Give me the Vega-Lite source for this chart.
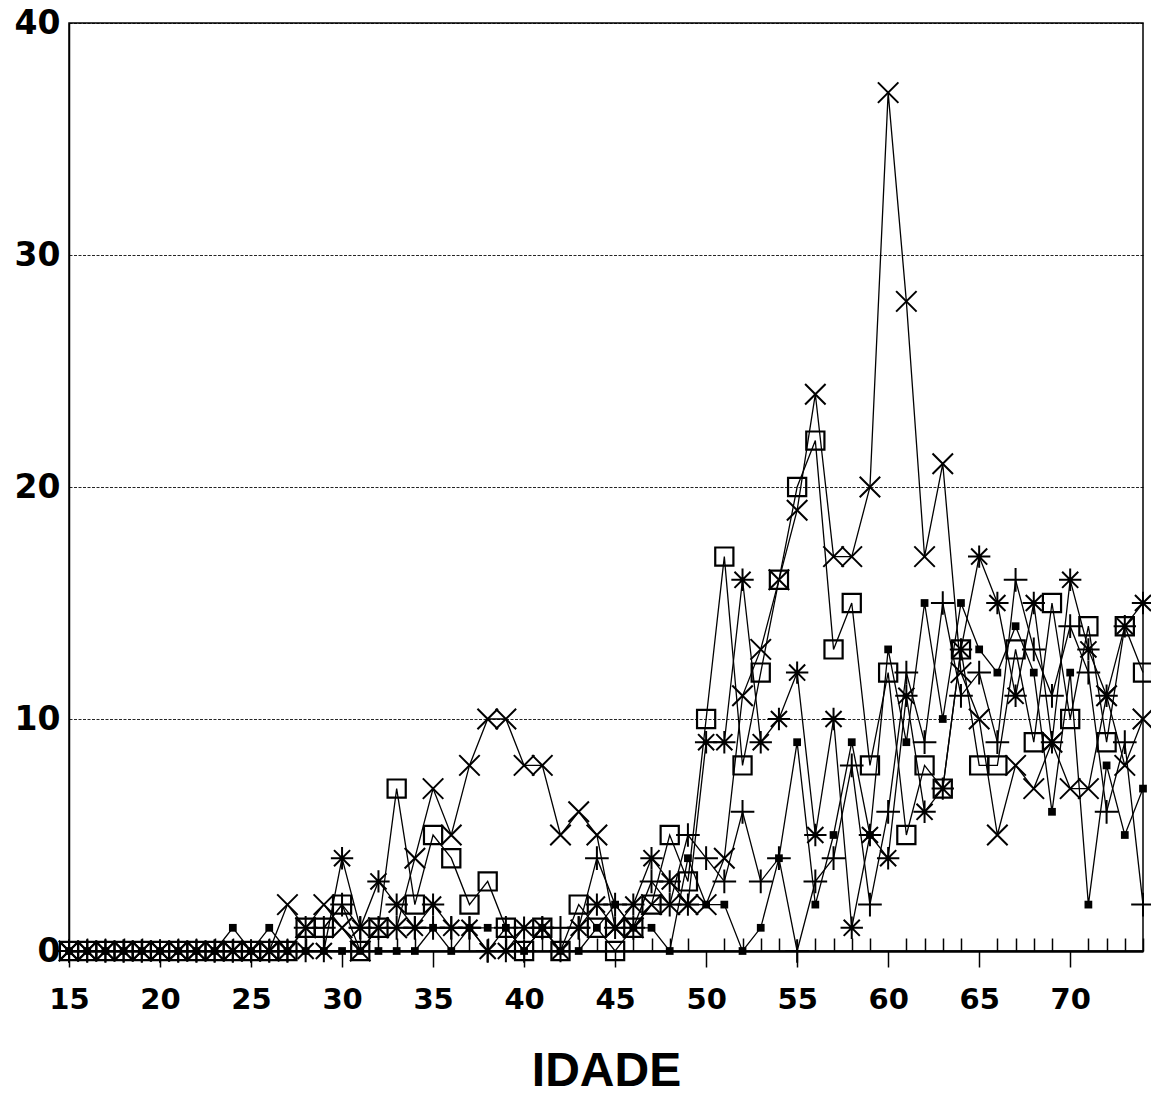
{
  "$schema": "https://vega.github.io/schema/vega-lite/v6.json",
  "width": 1074,
  "height": 928,
  "autosize": {"type": "none"},
  "padding": {"left": 69, "top": 23, "right": 8, "bottom": 152},
  "background": "white",
  "config": {
    "view": {"stroke": "black", "strokeWidth": 1.5},
    "axis": {"domainColor": "black", "tickColor": "black", "labelColor": "black", "titleColor": "black"}
  },
  "data": {
    "values": [
      {"age":15,"s":"X","v":0},{"age":16,"s":"X","v":0},{"age":17,"s":"X","v":0},{"age":18,"s":"X","v":0},{"age":19,"s":"X","v":0},{"age":20,"s":"X","v":0},{"age":21,"s":"X","v":0},{"age":22,"s":"X","v":0},{"age":23,"s":"X","v":0},{"age":24,"s":"X","v":0},{"age":25,"s":"X","v":0},{"age":26,"s":"X","v":0},{"age":27,"s":"X","v":2},{"age":28,"s":"X","v":1},{"age":29,"s":"X","v":2},{"age":30,"s":"X","v":1},{"age":31,"s":"X","v":0},{"age":32,"s":"X","v":1},{"age":33,"s":"X","v":1},{"age":34,"s":"X","v":4},{"age":35,"s":"X","v":7},{"age":36,"s":"X","v":5},{"age":37,"s":"X","v":8},{"age":38,"s":"X","v":10},{"age":39,"s":"X","v":10},{"age":40,"s":"X","v":8},{"age":41,"s":"X","v":8},{"age":42,"s":"X","v":5},{"age":43,"s":"X","v":6},{"age":44,"s":"X","v":5},{"age":45,"s":"X","v":1},{"age":46,"s":"X","v":1},{"age":47,"s":"X","v":2},{"age":48,"s":"X","v":2},{"age":49,"s":"X","v":2},{"age":50,"s":"X","v":2},{"age":51,"s":"X","v":4},{"age":52,"s":"X","v":11},{"age":53,"s":"X","v":13},{"age":54,"s":"X","v":16},{"age":55,"s":"X","v":19},{"age":56,"s":"X","v":24},{"age":57,"s":"X","v":17},{"age":58,"s":"X","v":17},{"age":59,"s":"X","v":20},{"age":60,"s":"X","v":37},{"age":61,"s":"X","v":28},{"age":62,"s":"X","v":17},{"age":63,"s":"X","v":21},{"age":64,"s":"X","v":12},{"age":65,"s":"X","v":10},{"age":66,"s":"X","v":5},{"age":67,"s":"X","v":8},{"age":68,"s":"X","v":7},{"age":69,"s":"X","v":9},{"age":70,"s":"X","v":7},{"age":71,"s":"X","v":7},{"age":72,"s":"X","v":11},{"age":73,"s":"X","v":8},{"age":74,"s":"X","v":10},

      {"age":15,"s":"SQ","v":0},{"age":16,"s":"SQ","v":0},{"age":17,"s":"SQ","v":0},{"age":18,"s":"SQ","v":0},{"age":19,"s":"SQ","v":0},{"age":20,"s":"SQ","v":0},{"age":21,"s":"SQ","v":0},{"age":22,"s":"SQ","v":0},{"age":23,"s":"SQ","v":0},{"age":24,"s":"SQ","v":0},{"age":25,"s":"SQ","v":0},{"age":26,"s":"SQ","v":0},{"age":27,"s":"SQ","v":0},{"age":28,"s":"SQ","v":1},{"age":29,"s":"SQ","v":1},{"age":30,"s":"SQ","v":2},{"age":31,"s":"SQ","v":0},{"age":32,"s":"SQ","v":1},{"age":33,"s":"SQ","v":7},{"age":34,"s":"SQ","v":2},{"age":35,"s":"SQ","v":5},{"age":36,"s":"SQ","v":4},{"age":37,"s":"SQ","v":2},{"age":38,"s":"SQ","v":3},{"age":39,"s":"SQ","v":1},{"age":40,"s":"SQ","v":0},{"age":41,"s":"SQ","v":1},{"age":42,"s":"SQ","v":0},{"age":43,"s":"SQ","v":2},{"age":44,"s":"SQ","v":1},{"age":45,"s":"SQ","v":0},{"age":46,"s":"SQ","v":1},{"age":47,"s":"SQ","v":2},{"age":48,"s":"SQ","v":5},{"age":49,"s":"SQ","v":3},{"age":50,"s":"SQ","v":10},{"age":51,"s":"SQ","v":17},{"age":52,"s":"SQ","v":8},{"age":53,"s":"SQ","v":12},{"age":54,"s":"SQ","v":16},{"age":55,"s":"SQ","v":20},{"age":56,"s":"SQ","v":22},{"age":57,"s":"SQ","v":13},{"age":58,"s":"SQ","v":15},{"age":59,"s":"SQ","v":8},{"age":60,"s":"SQ","v":12},{"age":61,"s":"SQ","v":5},{"age":62,"s":"SQ","v":8},{"age":63,"s":"SQ","v":7},{"age":64,"s":"SQ","v":13},{"age":65,"s":"SQ","v":8},{"age":66,"s":"SQ","v":8},{"age":67,"s":"SQ","v":13},{"age":68,"s":"SQ","v":9},{"age":69,"s":"SQ","v":15},{"age":70,"s":"SQ","v":10},{"age":71,"s":"SQ","v":14},{"age":72,"s":"SQ","v":9},{"age":73,"s":"SQ","v":14},{"age":74,"s":"SQ","v":12},

      {"age":15,"s":"AST","v":0},{"age":16,"s":"AST","v":0},{"age":17,"s":"AST","v":0},{"age":18,"s":"AST","v":0},{"age":19,"s":"AST","v":0},{"age":20,"s":"AST","v":0},{"age":21,"s":"AST","v":0},{"age":22,"s":"AST","v":0},{"age":23,"s":"AST","v":0},{"age":24,"s":"AST","v":0},{"age":25,"s":"AST","v":0},{"age":26,"s":"AST","v":0},{"age":27,"s":"AST","v":0},{"age":28,"s":"AST","v":0},{"age":29,"s":"AST","v":0},{"age":30,"s":"AST","v":4},{"age":31,"s":"AST","v":1},{"age":32,"s":"AST","v":3},{"age":33,"s":"AST","v":2},{"age":34,"s":"AST","v":1},{"age":35,"s":"AST","v":2},{"age":36,"s":"AST","v":1},{"age":37,"s":"AST","v":1},{"age":38,"s":"AST","v":0},{"age":39,"s":"AST","v":0},{"age":40,"s":"AST","v":1},{"age":41,"s":"AST","v":1},{"age":42,"s":"AST","v":0},{"age":43,"s":"AST","v":1},{"age":44,"s":"AST","v":2},{"age":45,"s":"AST","v":1},{"age":46,"s":"AST","v":2},{"age":47,"s":"AST","v":4},{"age":48,"s":"AST","v":3},{"age":49,"s":"AST","v":2},{"age":50,"s":"AST","v":9},{"age":51,"s":"AST","v":9},{"age":52,"s":"AST","v":16},{"age":53,"s":"AST","v":9},{"age":54,"s":"AST","v":10},{"age":55,"s":"AST","v":12},{"age":56,"s":"AST","v":5},{"age":57,"s":"AST","v":10},{"age":58,"s":"AST","v":1},{"age":59,"s":"AST","v":5},{"age":60,"s":"AST","v":4},{"age":61,"s":"AST","v":11},{"age":62,"s":"AST","v":6},{"age":63,"s":"AST","v":7},{"age":64,"s":"AST","v":13},{"age":65,"s":"AST","v":17},{"age":66,"s":"AST","v":15},{"age":67,"s":"AST","v":11},{"age":68,"s":"AST","v":15},{"age":69,"s":"AST","v":9},{"age":70,"s":"AST","v":16},{"age":71,"s":"AST","v":13},{"age":72,"s":"AST","v":11},{"age":73,"s":"AST","v":14},{"age":74,"s":"AST","v":15},

      {"age":15,"s":"PLUS","v":0},{"age":16,"s":"PLUS","v":0},{"age":17,"s":"PLUS","v":0},{"age":18,"s":"PLUS","v":0},{"age":19,"s":"PLUS","v":0},{"age":20,"s":"PLUS","v":0},{"age":21,"s":"PLUS","v":0},{"age":22,"s":"PLUS","v":0},{"age":23,"s":"PLUS","v":0},{"age":24,"s":"PLUS","v":0},{"age":25,"s":"PLUS","v":0},{"age":26,"s":"PLUS","v":0},{"age":27,"s":"PLUS","v":0},{"age":28,"s":"PLUS","v":1},{"age":29,"s":"PLUS","v":1},{"age":30,"s":"PLUS","v":2},{"age":31,"s":"PLUS","v":1},{"age":32,"s":"PLUS","v":1},{"age":33,"s":"PLUS","v":1},{"age":34,"s":"PLUS","v":1},{"age":35,"s":"PLUS","v":1},{"age":36,"s":"PLUS","v":1},{"age":37,"s":"PLUS","v":1},{"age":38,"s":"PLUS","v":0},{"age":39,"s":"PLUS","v":1},{"age":40,"s":"PLUS","v":0},{"age":41,"s":"PLUS","v":1},{"age":42,"s":"PLUS","v":1},{"age":43,"s":"PLUS","v":1},{"age":44,"s":"PLUS","v":4},{"age":45,"s":"PLUS","v":2},{"age":46,"s":"PLUS","v":1},{"age":47,"s":"PLUS","v":3},{"age":48,"s":"PLUS","v":2},{"age":49,"s":"PLUS","v":5},{"age":50,"s":"PLUS","v":4},{"age":51,"s":"PLUS","v":3},{"age":52,"s":"PLUS","v":6},{"age":53,"s":"PLUS","v":3},{"age":54,"s":"PLUS","v":4},{"age":55,"s":"PLUS","v":0},{"age":56,"s":"PLUS","v":3},{"age":57,"s":"PLUS","v":4},{"age":58,"s":"PLUS","v":8},{"age":59,"s":"PLUS","v":2},{"age":60,"s":"PLUS","v":6},{"age":61,"s":"PLUS","v":12},{"age":62,"s":"PLUS","v":9},{"age":63,"s":"PLUS","v":15},{"age":64,"s":"PLUS","v":11},{"age":65,"s":"PLUS","v":12},{"age":66,"s":"PLUS","v":9},{"age":67,"s":"PLUS","v":16},{"age":68,"s":"PLUS","v":13},{"age":69,"s":"PLUS","v":11},{"age":70,"s":"PLUS","v":14},{"age":71,"s":"PLUS","v":12},{"age":72,"s":"PLUS","v":6},{"age":73,"s":"PLUS","v":9},{"age":74,"s":"PLUS","v":2},

      {"age":15,"s":"DOT","v":0},{"age":16,"s":"DOT","v":0},{"age":17,"s":"DOT","v":0},{"age":18,"s":"DOT","v":0},{"age":19,"s":"DOT","v":0},{"age":20,"s":"DOT","v":0},{"age":21,"s":"DOT","v":0},{"age":22,"s":"DOT","v":0},{"age":23,"s":"DOT","v":0},{"age":24,"s":"DOT","v":1},{"age":25,"s":"DOT","v":0},{"age":26,"s":"DOT","v":1},{"age":27,"s":"DOT","v":0},{"age":28,"s":"DOT","v":0},{"age":29,"s":"DOT","v":0},{"age":30,"s":"DOT","v":0},{"age":31,"s":"DOT","v":0},{"age":32,"s":"DOT","v":0},{"age":33,"s":"DOT","v":0},{"age":34,"s":"DOT","v":0},{"age":35,"s":"DOT","v":1},{"age":36,"s":"DOT","v":0},{"age":37,"s":"DOT","v":1},{"age":38,"s":"DOT","v":1},{"age":39,"s":"DOT","v":1},{"age":40,"s":"DOT","v":0},{"age":41,"s":"DOT","v":1},{"age":42,"s":"DOT","v":0},{"age":43,"s":"DOT","v":0},{"age":44,"s":"DOT","v":1},{"age":45,"s":"DOT","v":2},{"age":46,"s":"DOT","v":1},{"age":47,"s":"DOT","v":1},{"age":48,"s":"DOT","v":0},{"age":49,"s":"DOT","v":4},{"age":50,"s":"DOT","v":2},{"age":51,"s":"DOT","v":2},{"age":52,"s":"DOT","v":0},{"age":53,"s":"DOT","v":1},{"age":54,"s":"DOT","v":4},{"age":55,"s":"DOT","v":9},{"age":56,"s":"DOT","v":2},{"age":57,"s":"DOT","v":5},{"age":58,"s":"DOT","v":9},{"age":59,"s":"DOT","v":5},{"age":60,"s":"DOT","v":13},{"age":61,"s":"DOT","v":9},{"age":62,"s":"DOT","v":15},{"age":63,"s":"DOT","v":10},{"age":64,"s":"DOT","v":15},{"age":65,"s":"DOT","v":13},{"age":66,"s":"DOT","v":12},{"age":67,"s":"DOT","v":14},{"age":68,"s":"DOT","v":12},{"age":69,"s":"DOT","v":6},{"age":70,"s":"DOT","v":12},{"age":71,"s":"DOT","v":2},{"age":72,"s":"DOT","v":8},{"age":73,"s":"DOT","v":5},{"age":74,"s":"DOT","v":7}
    ]
  },
  "encoding": {
    "x": {
      "field": "age", "type": "quantitative",
      "scale": {"domain": [15, 74], "nice": false, "zero": false},
      "axis": {
        "title": "IDADE",
        "titleFont": "Liberation Sans", "titleFontSize": 48, "titleFontWeight": "bold", "titlePadding": 33,
        "values": [15,16,17,18,19,20,21,22,23,24,25,26,27,28,29,30,31,32,33,34,35,36,37,38,39,40,41,42,43,44,45,46,47,48,49,50,51,52,53,54,55,56,57,58,59,60,61,62,63,64,65,66,67,68,69,70,71,72,73,74],
        "labelExpr": "datum.value % 5 === 0 && datum.value <= 70 ? datum.label : ''",
        "labelFont": "DejaVu Sans", "labelFontSize": 29, "labelFontWeight": "bold",
        "labelPadding": 18, "labelOverlap": false, "labelFlush": false,
        "tickSize": {"condition": {"test": "datum.value % 5 === 0", "value": 16}, "value": -13},
        "tickWidth": 1.5,
        "domainWidth": 2.5,
        "grid": false
      }
    },
    "y": {
      "field": "v", "type": "quantitative",
      "scale": {"domain": [0, 40], "nice": false},
      "axis": {
        "title": null,
        "values": [0, 10, 20, 30, 40],
        "ticks": false,
        "labelFont": "DejaVu Sans", "labelFontSize": 33, "labelFontWeight": "bold",
        "labelPadding": 9,
        "domainWidth": 1.5,
        "grid": true, "gridColor": "black", "gridDash": [3, 1.5], "gridWidth": 1, "gridOpacity": 0.85
      }
    }
  },
  "layer": [
    {
      "mark": {"type": "line", "color": "black", "strokeWidth": 1.3, "clip": false},
      "encoding": {"detail": {"field": "s"}}
    },
    {
      "transform": [{"filter": "datum.s === 'X'"}],
      "mark": {"type": "point", "shape": "M-1,-1L1,1M-1,1L1,-1", "size": 420, "filled": false, "stroke": "black", "strokeWidth": 2, "opacity": 1, "clip": false}
    },
    {
      "transform": [{"filter": "datum.s === 'SQ'"}],
      "mark": {"type": "point", "shape": "square", "size": 330, "filled": false, "stroke": "black", "strokeWidth": 2.2, "opacity": 1, "clip": false}
    },
    {
      "transform": [{"filter": "datum.s === 'AST'"}],
      "mark": {"type": "point", "shape": "M-1,0L1,0M0,-1L0,1M-0.72,-0.72L0.72,0.72M-0.72,0.72L0.72,-0.72", "size": 500, "filled": false, "stroke": "black", "strokeWidth": 2, "opacity": 1, "clip": false}
    },
    {
      "transform": [{"filter": "datum.s === 'PLUS'"}],
      "mark": {"type": "point", "shape": "M-1,0L1,0M0,-1L0,1", "size": 560, "filled": false, "stroke": "black", "strokeWidth": 2, "opacity": 1, "clip": false}
    },
    {
      "transform": [{"filter": "datum.s === 'DOT'"}],
      "mark": {"type": "point", "shape": "square", "size": 60, "filled": true, "color": "black", "opacity": 1, "clip": false}
    }
  ]
}
